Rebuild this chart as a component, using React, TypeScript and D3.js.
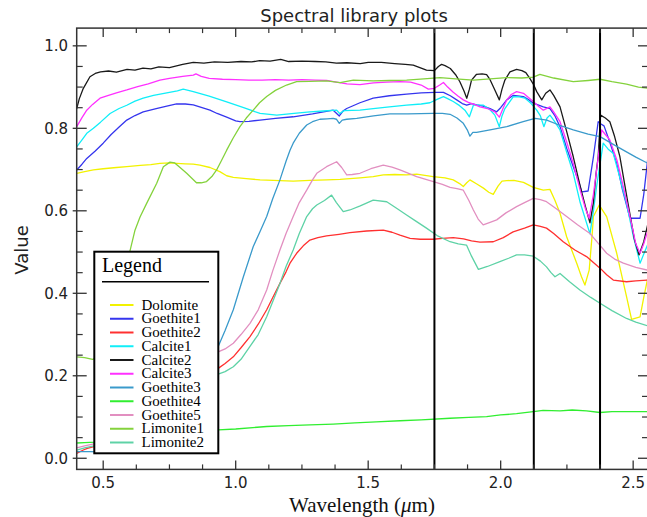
import React from "react";
import * as d3 from "d3";

type Pt = [number, number];

// Reflectance spectra, [wavelength µm, value]
const dolomite: Pt[] = [[0.40,0.691],[0.43,0.695],[0.463,0.699],[0.5,0.702],[0.55,0.705],[0.589,0.707],[0.64,0.71],[0.68,0.712],[0.714,0.715],[0.75,0.716],[0.777,0.715],[0.81,0.714],[0.84,0.713],[0.865,0.711],[0.903,0.705],[0.94,0.695],[0.966,0.685],[0.991,0.681],[1.04,0.678],[1.092,0.675],[1.167,0.673],[1.217,0.672],[1.28,0.674],[1.343,0.675],[1.394,0.676],[1.469,0.68],[1.519,0.683],[1.557,0.687],[1.6,0.688],[1.645,0.687],[1.683,0.689],[1.745,0.683],[1.79,0.68],[1.821,0.675],[1.845,0.666],[1.859,0.659],[1.872,0.668],[1.884,0.675],[1.91,0.665],[1.935,0.655],[1.955,0.645],[1.972,0.64],[1.99,0.66],[2.005,0.672],[2.023,0.673],[2.05,0.674],[2.086,0.669],[2.123,0.657],[2.161,0.65],[2.186,0.652],[2.205,0.625],[2.224,0.594],[2.249,0.537],[2.287,0.473],[2.305,0.44],[2.318,0.42],[2.334,0.456],[2.345,0.54],[2.35,0.586],[2.372,0.614],[2.4,0.586],[2.438,0.497],[2.475,0.392],[2.494,0.337],[2.51,0.34],[2.526,0.343],[2.54,0.39],[2.556,0.44]];

const goethite1: Pt[] = [[0.40,0.699],[0.42,0.713],[0.438,0.727],[0.47,0.745],[0.50,0.764],[0.53,0.785],[0.56,0.803],[0.589,0.82],[0.62,0.831],[0.651,0.84],[0.7,0.848],[0.74,0.854],[0.777,0.859],[0.81,0.859],[0.84,0.857],[0.87,0.851],[0.903,0.844],[0.93,0.836],[0.966,0.827],[1.0,0.818],[1.016,0.816],[1.05,0.817],[1.092,0.82],[1.15,0.824],[1.217,0.828],[1.29,0.835],[1.368,0.844],[1.391,0.83],[1.405,0.842],[1.419,0.848],[1.469,0.862],[1.519,0.873],[1.58,0.879],[1.645,0.883],[1.7,0.886],[1.752,0.887],[1.784,0.887],[1.81,0.879],[1.834,0.869],[1.855,0.86],[1.872,0.856],[1.89,0.86],[1.91,0.857],[1.934,0.854],[1.96,0.848],[1.985,0.84],[2.0,0.85],[2.023,0.869],[2.048,0.88],[2.086,0.877],[2.105,0.87],[2.123,0.861],[2.161,0.852],[2.186,0.848],[2.205,0.83],[2.224,0.804],[2.25,0.75],[2.274,0.707],[2.295,0.67],[2.306,0.646],[2.33,0.648],[2.35,0.731],[2.368,0.816],[2.38,0.81],[2.39,0.806],[2.41,0.77],[2.438,0.715],[2.46,0.65],[2.488,0.582],[2.526,0.582],[2.54,0.64],[2.556,0.731]];

const goethite2: Pt[] = [[0.40,0.012],[0.425,0.02],[0.44,0.024],[0.465,0.028],[0.5,0.035],[0.6,0.06],[0.7,0.1],[0.8,0.15],[0.88,0.19],[0.934,0.218],[0.96,0.23],[0.991,0.246],[1.02,0.268],[1.054,0.295],[1.085,0.325],[1.117,0.36],[1.14,0.39],[1.167,0.424],[1.19,0.452],[1.205,0.473],[1.23,0.497],[1.255,0.515],[1.28,0.529],[1.31,0.535],[1.343,0.539],[1.39,0.543],[1.431,0.547],[1.494,0.551],[1.557,0.553],[1.59,0.548],[1.62,0.541],[1.658,0.533],[1.696,0.531],[1.746,0.531],[1.78,0.533],[1.821,0.535],[1.86,0.532],[1.89,0.527],[1.922,0.524],[1.972,0.525],[2.01,0.535],[2.047,0.549],[2.09,0.558],[2.123,0.566],[2.15,0.562],[2.173,0.558],[2.2,0.545],[2.236,0.525],[2.28,0.505],[2.324,0.489],[2.375,0.461],[2.4,0.445],[2.425,0.432],[2.475,0.428],[2.51,0.43],[2.556,0.432]];

const calcite1: Pt[] = [[0.40,0.755],[0.42,0.772],[0.438,0.788],[0.463,0.80],[0.49,0.815],[0.526,0.836],[0.56,0.848],[0.589,0.856],[0.62,0.866],[0.651,0.873],[0.69,0.88],[0.74,0.886],[0.78,0.891],[0.802,0.895],[0.84,0.889],[0.9,0.878],[0.966,0.864],[1.03,0.85],[1.092,0.836],[1.155,0.832],[1.22,0.836],[1.28,0.84],[1.33,0.842],[1.381,0.844],[1.392,0.836],[1.41,0.843],[1.469,0.844],[1.519,0.848],[1.58,0.852],[1.645,0.856],[1.7,0.859],[1.733,0.862],[1.76,0.87],[1.784,0.877],[1.8,0.872],[1.821,0.865],[1.845,0.855],[1.865,0.844],[1.882,0.828],[1.897,0.856],[1.935,0.856],[1.96,0.845],[1.978,0.832],[1.995,0.804],[2.005,0.83],[2.016,0.848],[2.048,0.877],[2.07,0.876],[2.092,0.873],[2.115,0.86],[2.136,0.844],[2.15,0.83],[2.163,0.804],[2.175,0.825],[2.186,0.832],[2.2,0.82],[2.224,0.796],[2.25,0.74],[2.274,0.691],[2.3,0.62],[2.337,0.544],[2.35,0.6],[2.362,0.659],[2.387,0.764],[2.405,0.75],[2.425,0.739],[2.45,0.68],[2.475,0.618],[2.5,0.54],[2.526,0.473],[2.54,0.495],[2.556,0.52]];

const calcite2: Pt[] = [[0.40,0.848],[0.41,0.872],[0.425,0.897],[0.45,0.925],[0.47,0.933],[0.49,0.937],[0.52,0.939],[0.55,0.936],[0.59,0.943],[0.62,0.941],[0.65,0.946],[0.68,0.944],[0.71,0.949],[0.75,0.947],[0.8,0.955],[0.84,0.96],[0.88,0.958],[0.92,0.961],[0.97,0.96],[1.02,0.962],[1.06,0.961],[1.09,0.964],[1.13,0.963],[1.17,0.967],[1.2,0.962],[1.25,0.963],[1.3,0.962],[1.34,0.961],[1.38,0.958],[1.42,0.959],[1.47,0.957],[1.5,0.96],[1.55,0.96],[1.6,0.957],[1.64,0.955],[1.67,0.953],[1.70,0.946],[1.72,0.941],[1.75,0.94],[1.765,0.95],[1.777,0.955],[1.79,0.952],[1.81,0.945],[1.83,0.93],[1.846,0.913],[1.862,0.89],[1.872,0.873],[1.882,0.895],[1.89,0.917],[1.909,0.931],[1.93,0.932],[1.947,0.93],[1.96,0.918],[1.978,0.893],[1.995,0.869],[2.005,0.895],[2.016,0.917],[2.035,0.937],[2.06,0.943],[2.08,0.94],[2.095,0.935],[2.11,0.921],[2.125,0.905],[2.136,0.889],[2.155,0.869],[2.17,0.885],[2.186,0.893],[2.2,0.88],[2.224,0.852],[2.25,0.79],[2.274,0.731],[2.3,0.66],[2.32,0.61],[2.337,0.571],[2.35,0.62],[2.36,0.69],[2.368,0.731],[2.377,0.832],[2.395,0.825],[2.412,0.816],[2.43,0.78],[2.45,0.731],[2.48,0.62],[2.505,0.53],[2.522,0.493],[2.54,0.525],[2.556,0.57]];

const calcite3: Pt[] = [[0.40,0.804],[0.42,0.826],[0.438,0.844],[0.46,0.858],[0.488,0.873],[0.52,0.88],[0.55,0.886],[0.589,0.893],[0.63,0.901],[0.67,0.908],[0.714,0.917],[0.75,0.921],[0.8,0.926],[0.84,0.929],[0.85,0.932],[0.87,0.926],[0.9,0.921],[0.95,0.919],[1.0,0.918],[1.05,0.917],[1.1,0.917],[1.15,0.918],[1.2,0.917],[1.25,0.918],[1.3,0.917],[1.343,0.916],[1.38,0.912],[1.42,0.908],[1.469,0.906],[1.52,0.91],[1.57,0.912],[1.62,0.913],[1.66,0.912],[1.7,0.905],[1.727,0.895],[1.75,0.897],[1.77,0.905],[1.784,0.911],[1.8,0.9],[1.82,0.888],[1.84,0.878],[1.859,0.869],[1.878,0.863],[1.9,0.858],[1.922,0.852],[1.95,0.848],[1.978,0.84],[1.995,0.827],[2.01,0.85],[2.023,0.869],[2.04,0.882],[2.06,0.889],[2.086,0.885],[2.105,0.875],[2.123,0.865],[2.14,0.855],[2.161,0.844],[2.186,0.852],[2.2,0.84],[2.224,0.816],[2.25,0.765],[2.274,0.715],[2.3,0.65],[2.32,0.605],[2.334,0.582],[2.35,0.64],[2.362,0.699],[2.381,0.796],[2.395,0.785],[2.412,0.772],[2.44,0.72],[2.463,0.658],[2.49,0.58],[2.51,0.52],[2.526,0.497],[2.54,0.52],[2.556,0.553]];

const goethite3: Pt[] = [[0.40,0.016],[0.45,0.016],[0.51,0.015],[0.6,0.03],[0.7,0.07],[0.8,0.14],[0.88,0.21],[0.934,0.271],[0.96,0.31],[0.991,0.36],[1.029,0.44],[1.066,0.513],[1.092,0.55],[1.117,0.586],[1.14,0.63],[1.167,0.675],[1.19,0.72],[1.205,0.747],[1.217,0.764],[1.24,0.788],[1.268,0.808],[1.29,0.816],[1.318,0.822],[1.345,0.823],[1.368,0.824],[1.38,0.822],[1.391,0.812],[1.402,0.82],[1.419,0.822],[1.457,0.824],[1.52,0.83],[1.582,0.835],[1.65,0.835],[1.745,0.836],[1.78,0.836],[1.809,0.834],[1.835,0.825],[1.859,0.812],[1.875,0.795],[1.884,0.781],[1.895,0.79],[1.909,0.79],[1.96,0.796],[2.023,0.804],[2.085,0.816],[2.13,0.824],[2.174,0.82],[2.22,0.808],[2.274,0.796],[2.33,0.786],[2.375,0.78],[2.42,0.763],[2.463,0.747],[2.51,0.73],[2.556,0.715]];

const goethite4: Pt[] = [[0.40,0.037],[0.43,0.038],[0.47,0.039],[0.6,0.05],[0.75,0.06],[0.85,0.065],[0.934,0.069],[1.0,0.071],[1.117,0.077],[1.2,0.079],[1.28,0.081],[1.368,0.083],[1.45,0.086],[1.53,0.088],[1.62,0.091],[1.7,0.093],[1.809,0.097],[1.88,0.099],[1.947,0.101],[2.0,0.105],[2.06,0.108],[2.123,0.113],[2.16,0.116],[2.224,0.115],[2.27,0.117],[2.324,0.115],[2.375,0.111],[2.42,0.113],[2.48,0.113],[2.556,0.113]];

const goethite5: Pt[] = [[0.40,0.025],[0.43,0.03],[0.465,0.035],[0.5,0.04],[0.6,0.07],[0.7,0.11],[0.8,0.17],[0.88,0.225],[0.934,0.258],[0.96,0.265],[0.991,0.279],[1.02,0.3],[1.054,0.327],[1.085,0.36],[1.117,0.408],[1.14,0.455],[1.167,0.505],[1.19,0.545],[1.217,0.586],[1.24,0.62],[1.268,0.65],[1.29,0.675],[1.306,0.691],[1.343,0.707],[1.381,0.719],[1.40,0.705],[1.419,0.687],[1.44,0.688],[1.469,0.691],[1.51,0.702],[1.557,0.711],[1.59,0.706],[1.62,0.699],[1.683,0.683],[1.746,0.671],[1.78,0.664],[1.809,0.657],[1.835,0.654],[1.859,0.65],[1.88,0.625],[1.897,0.602],[1.915,0.58],[1.934,0.566],[1.96,0.572],[1.985,0.578],[2.02,0.595],[2.06,0.61],[2.09,0.62],[2.123,0.63],[2.15,0.627],[2.173,0.622],[2.21,0.605],[2.249,0.586],[2.29,0.566],[2.337,0.545],[2.37,0.52],[2.4,0.497],[2.43,0.483],[2.463,0.473],[2.51,0.463],[2.556,0.456]];

const limonite1: Pt[] = [[0.40,0.246],[0.43,0.244],[0.46,0.24],[0.48,0.245],[0.52,0.3],[0.56,0.4],[0.60,0.5],[0.62,0.553],[0.639,0.585],[0.664,0.618],[0.702,0.667],[0.727,0.707],[0.752,0.718],[0.77,0.716],[0.79,0.705],[0.815,0.691],[0.852,0.668],[0.87,0.668],[0.89,0.671],[0.91,0.683],[0.928,0.699],[0.945,0.72],[0.966,0.747],[0.99,0.776],[1.016,0.804],[1.04,0.825],[1.066,0.844],[1.09,0.862],[1.117,0.877],[1.15,0.892],[1.192,0.905],[1.23,0.913],[1.28,0.914],[1.343,0.915],[1.394,0.911],[1.444,0.917],[1.519,0.915],[1.58,0.916],[1.645,0.917],[1.71,0.92],[1.771,0.923],[1.83,0.92],[1.897,0.917],[1.96,0.92],[2.023,0.923],[2.08,0.922],[2.123,0.924],[2.148,0.931],[2.2,0.922],[2.274,0.913],[2.33,0.916],[2.375,0.919],[2.42,0.913],[2.475,0.907],[2.52,0.9],[2.556,0.897]];

const limonite2: Pt[] = [[0.40,0.02],[0.43,0.025],[0.465,0.03],[0.5,0.033],[0.6,0.055],[0.7,0.09],[0.8,0.14],[0.88,0.18],[0.934,0.204],[0.96,0.21],[0.991,0.222],[1.02,0.24],[1.054,0.271],[1.085,0.3],[1.117,0.343],[1.14,0.38],[1.167,0.424],[1.19,0.465],[1.217,0.505],[1.24,0.545],[1.268,0.586],[1.29,0.605],[1.306,0.614],[1.335,0.625],[1.362,0.638],[1.38,0.62],[1.406,0.598],[1.431,0.602],[1.47,0.612],[1.519,0.626],[1.57,0.622],[1.61,0.605],[1.645,0.59],[1.68,0.575],[1.72,0.558],[1.76,0.54],[1.809,0.525],[1.84,0.52],[1.871,0.517],[1.89,0.49],[1.916,0.458],[1.95,0.465],[1.997,0.477],[2.03,0.485],[2.06,0.493],[2.09,0.493],[2.123,0.49],[2.15,0.478],[2.173,0.464],[2.19,0.45],[2.205,0.44],[2.224,0.448],[2.26,0.428],[2.299,0.408],[2.34,0.39],[2.375,0.376],[2.42,0.358],[2.475,0.339],[2.51,0.33],[2.556,0.321]];

const seriesNames = ["Dolomite", "Goethite1", "Goethite2", "Calcite1", "Calcite2", "Calcite3", "Goethite3", "Goethite4", "Goethite5", "Limonite1", "Limonite2"];
const seriesData = [dolomite, goethite1, goethite2, calcite1, calcite2, calcite3, goethite3, goethite4, goethite5, limonite1, limonite2];
const seriesColors = ["#f2f200", "#3535ee", "#ff3030", "#10eef8", "#1a1a1a", "#ff30ff", "#3a9acb", "#30ee30", "#e28fc0", "#84d23c", "#5ed2a6"];

// Marker wavelengths (vertical reference lines)
const markerLines = [1.75, 2.125, 2.375];

const xMajor = [0.5, 1.0, 1.5, 2.0, 2.5];
const yMajor = [0.0, 0.2, 0.4, 0.6, 0.8, 1.0];

const W = 647, H = 517;
const left = 76.7, right = 648, top = 28.1, bottom = 469.4;

export default function App() {
  const x = d3.scaleLinear().domain([0.4, 2.556]).range([left, right]);
  const y = d3.scaleLinear().domain([-0.027, 1.043]).range([bottom, top]);
  const line = d3.line<Pt>().x(d => x(d[0])).y(d => y(d[1]));

  const xMinor = d3.range(0.375, 2.556, 0.125).filter(v => v > 0.4 && Math.abs(v / 0.5 - Math.round(v / 0.5)) > 1e-6);
  const yMinor = d3.range(0, 1.04, 0.05).filter(v => Math.abs(v / 0.2 - Math.round(v / 0.2)) > 1e-6);

  const axisColor = "#333";
  const tickFont = "'DejaVu Sans', sans-serif";
  const serif = "'Liberation Serif', 'Times New Roman', serif";

  // Legend geometry
  const lg = { x0: 94.3, y0: 251.7, x1: 218.3, y1: 453.3 };
  const rowY0 = 305, rowStep = 13.75;

  return (
    <svg width={W} height={H} style={{ position: "absolute", left: 0, top: 0, background: "#fff" }}>
      <defs>
        <clipPath id="plot-area">
          <rect x={left} y={top} width={right - left} height={bottom - top} />
        </clipPath>
      </defs>
      <rect x={0} y={0} width={W} height={H} fill="#fff" />

      <text x={354} y={22} textAnchor="middle" fontFamily={tickFont} fontSize={18} fill="#222">Spectral library plots</text>

      <g clipPath="url(#plot-area)">
        {seriesData.map((s, i) => (
          <path key={seriesNames[i]} d={line(s) || ""} fill="none" stroke={seriesColors[i]} strokeWidth={1.3} strokeLinejoin="round" />
        ))}
        {markerLines.map(m => (
          <line key={m} x1={x(m)} x2={x(m)} y1={top} y2={bottom} stroke="#000" strokeWidth={2} />
        ))}
      </g>

      {/* frame */}
      <rect x={left} y={top} width={right - left} height={bottom - top} fill="none" stroke={axisColor} strokeWidth={1.5} />

      {/* x ticks, bottom and top */}
      {xMajor.map(v => (
        <g key={"xm" + v}>
          <line x1={x(v)} x2={x(v)} y1={bottom} y2={bottom - 9} stroke={axisColor} strokeWidth={1.3} />
          <line x1={x(v)} x2={x(v)} y1={top} y2={top + 9} stroke={axisColor} strokeWidth={1.3} />
          <text x={x(v)} y={488} textAnchor="middle" fontFamily={tickFont} fontSize={15} fill="#222">{v.toFixed(1)}</text>
        </g>
      ))}
      {xMinor.map(v => (
        <g key={"xn" + v}>
          <line x1={x(v)} x2={x(v)} y1={bottom} y2={bottom - 5} stroke={axisColor} strokeWidth={1.2} />
          <line x1={x(v)} x2={x(v)} y1={top} y2={top + 5} stroke={axisColor} strokeWidth={1.2} />
        </g>
      ))}

      {/* y ticks, left and right */}
      {yMajor.map(v => (
        <g key={"ym" + v}>
          <line x1={left - 4} x2={left + 10} y1={y(v)} y2={y(v)} stroke={axisColor} strokeWidth={1.3} />
          <line x1={right - 10} x2={right} y1={y(v)} y2={y(v)} stroke={axisColor} strokeWidth={1.3} />
          <text x={68} y={y(v) + 5.5} textAnchor="end" fontFamily={tickFont} fontSize={15} fill="#222">{v.toFixed(1)}</text>
        </g>
      ))}
      {yMinor.map(v => (
        <g key={"yn" + v}>
          <line x1={left} x2={left + 6} y1={y(v)} y2={y(v)} stroke={axisColor} strokeWidth={1.2} />
          <line x1={right - 6} x2={right} y1={y(v)} y2={y(v)} stroke={axisColor} strokeWidth={1.2} />
        </g>
      ))}

      <text transform={`translate(28,250) rotate(-90)`} textAnchor="middle" fontFamily={tickFont} fontSize={18} fill="#222">Value</text>
      <text x={362} y={512} textAnchor="middle" fontFamily={serif} fontSize={21} fill="#111">
        Wavelength (<tspan fontStyle="italic">μ</tspan>m)
      </text>

      {/* legend */}
      <rect x={lg.x0} y={lg.y0} width={lg.x1 - lg.x0} height={lg.y1 - lg.y0} fill="#fff" stroke="#000" strokeWidth={2} />
      <text x={102} y={272} fontFamily={serif} fontSize={20} fill="#000">Legend</text>
      <line x1={102} x2={209} y1={281.7} y2={281.7} stroke="#000" strokeWidth={1.5} />
      {seriesNames.map((n, i) => (
        <g key={"lg" + n}>
          <line x1={110} x2={133.5} y1={rowY0 + i * rowStep} y2={rowY0 + i * rowStep} stroke={seriesColors[i]} strokeWidth={2} />
          <text x={141.5} y={rowY0 + i * rowStep + 4.5} fontFamily={serif} fontSize={15} fill="#000">{n}</text>
        </g>
      ))}
    </svg>
  );
}
